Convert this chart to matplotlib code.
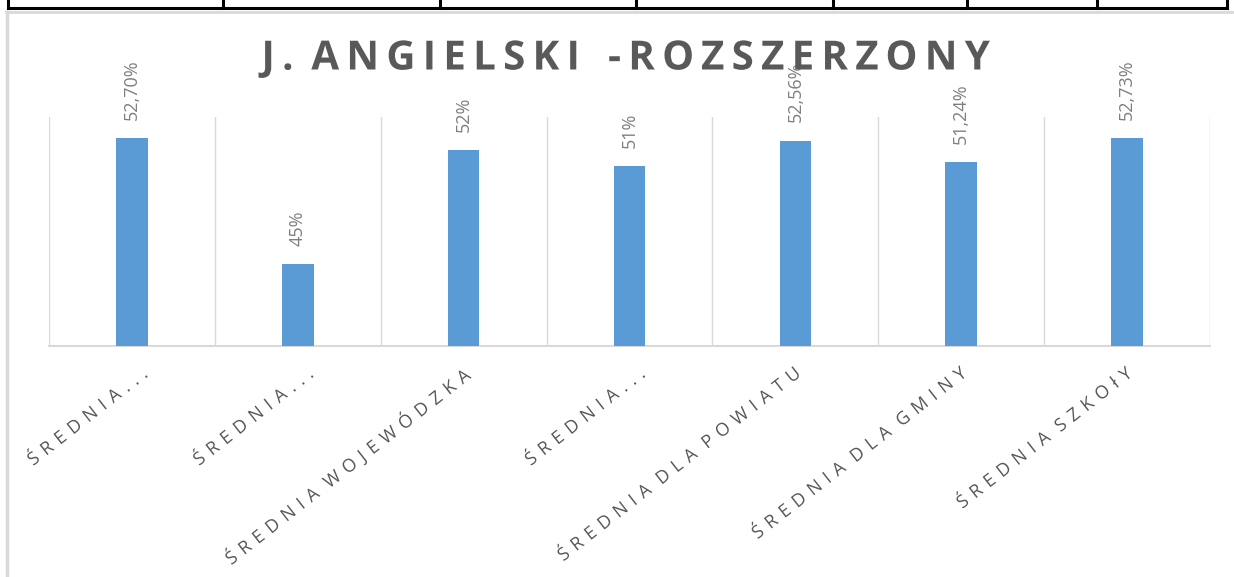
import matplotlib
matplotlib.use("Agg")
import numpy as np
import matplotlib.pyplot as plt
from matplotlib.lines import Line2D
from matplotlib.path import Path
from matplotlib.patheffects import AbstractPathEffect
from matplotlib.transforms import ScaledTranslation

categories = ["ŚREDNIA…", "ŚREDNIA…", "ŚREDNIA WOJEWÓDZKA", "ŚREDNIA…",
              "ŚREDNIA DLA POWIATU", "ŚREDNIA DLA GMINY", "ŚREDNIA SZKOłY"]
values = [52.70, 45, 52, 51, 52.56, 51.24, 52.73]
value_labels = ["52,70%", "45%", "52%", "51%", "52,56%", "51,24%", "52,73%"]
title = "J. ANGIELSKI  -ROZSZERZONY"

plt.rcParams["font.family"] = ["Open Sans", "DejaVu Sans"]


class LetterSpacing(AbstractPathEffect):
    # spreads the glyphs of a text apart (excel-style character spacing)
    def __init__(self, spacing, align="left"):
        super().__init__()
        self.spacing = spacing
        self.align = align

    def draw_path(self, renderer, gc, tpath, affine, rgbFace=None):
        codes = tpath.codes
        verts = tpath.vertices.copy()
        if codes is None or len(verts) == 0:
            renderer.draw_path(gc, tpath, affine, rgbFace)
            return
        starts = list(np.where(codes == Path.MOVETO)[0]) + [len(codes)]
        parts = []
        for a, b in zip(starts[:-1], starts[1:]):
            m = codes[a:b] != Path.CLOSEPOLY
            xs = verts[a:b, 0][m]
            parts.append((a, b, xs.min(), xs.max()))
        order = sorted(range(len(parts)), key=lambda k: parts[k][2])
        cid = {}
        n = -1
        cur_max = -np.inf
        for k in order:
            x0, x1 = parts[k][2], parts[k][3]
            if n < 0 or (x0 + x1) / 2 > cur_max:
                n += 1
                cur_max = x1
            else:
                cur_max = max(cur_max, x1)
            cid[k] = n
        off = {"left": 0, "right": -n, "center": -n / 2}[self.align]
        for k, (a, b, _, _) in enumerate(parts):
            verts[a:b, 0] += (cid[k] + off) * self.spacing
        renderer.draw_path(gc, Path(verts, codes), affine, rgbFace)


W, H = 1234, 577
fig = plt.figure(figsize=(W / 100, H / 100), dpi=100)
fig.patch.set_facecolor("white")


# table fragment at the top + chart frame
def fline(x0, y0, x1, y1, color, lw):
    fig.add_artist(Line2D([x0 / W, x1 / W], [1 - y0 / H, 1 - y1 / H],
                          color=color, lw=lw, transform=fig.transFigure))


fline(8, 8, 1227, 8, "black", 2.2)
for xv in [8, 223, 440, 636, 833, 967, 1097, 1227]:
    fline(xv, 0, xv, 8, "black", 2.2)
fline(6, 12, 1234, 12, "#D9D9D9", 2)
fline(7, 12, 7, 577, "#D9D9D9", 2.5)

ax = fig.add_axes([49 / W, 1 - 346 / H, (1210 - 49) / W, (346 - 117) / H])
x = list(range(len(values)))
ax.bar(x, values, width=0.19, color="#5B9BD5", zorder=3)
ax.set_xlim(-0.5, len(values) - 0.5)
ax.set_ylim(40, 54)

for xb in [i - 0.5 for i in range(len(values) + 1)]:
    ax.axvline(xb, color="#D9D9D9", lw=1, zorder=1)

for s in ["top", "right", "left"]:
    ax.spines[s].set_visible(False)
ax.spines["bottom"].set_color("#D9D9D9")
ax.spines["bottom"].set_linewidth(1.5)
ax.set_yticks([])
ax.set_xticks([])

# category labels
for xi, c in zip(x, categories):
    dx = 8 if c.endswith("…") else -3
    tr = ax.get_xaxis_transform() + ScaledTranslation(dx / 100, -19 / 100, fig.dpi_scale_trans)
    ax.text(xi, 0, c, transform=tr, rotation=38, rotation_mode="anchor",
            ha="right", va="top", fontsize=13, color="#595959",
            path_effects=[LetterSpacing(36, "right")])

for xi, v, t in zip(x, values, value_labels):
    ax.annotate(t, (xi, v), xytext=(0, 13), textcoords="offset points",
                rotation=90, ha="center", va="bottom", fontsize=13,
                color="#7F7F7F", annotation_clip=False)

fig.text(626 / W, 1 - 59 / H, title, ha="center", va="center",
         fontsize=29, fontweight="bold", color="#595959",
         path_effects=[LetterSpacing(18, "center")])

fig.savefig("out.png", dpi=100)
